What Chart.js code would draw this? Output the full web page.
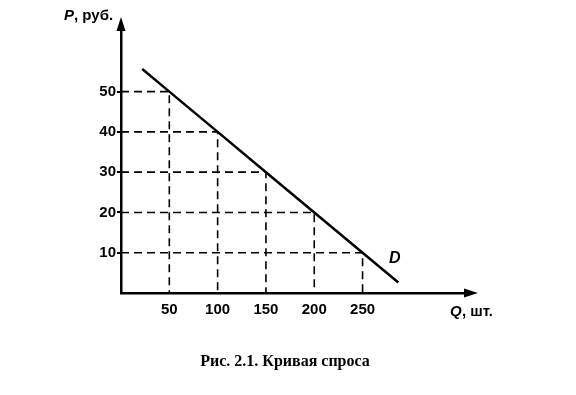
<!DOCTYPE html>
<html lang="ru">
<head>
    <meta charset="UTF-8">
    <title>Кривая спроса</title>
    <script src="https://cdn.jsdelivr.net/npm/chart.js"></script>
    <style>
        html, body { margin: 0; padding: 0; background: #fff; }
        canvas { display: block; }
    </style>
</head>
<body>
    <canvas id="myChart" width="576" height="395"></canvas>
    <script>
        // tick labels on the axes
        const qTicks = [50, 100, 150, 200, 250];
        const pTicks = [10, 20, 30, 40, 50];
        // demand curve D
        const demandQ = [22, 50, 100, 150, 200, 250, 287];
        const demandP = [55.6, 50, 40, 30, 20, 10, 2.6];
        // dashed guide points (Q, P) on the curve
        const guideQ = [50, 100, 150, 200, 250];
        const guideP = [50, 40, 30, 20, 10];

        const axisFont = { family: 'Liberation Sans, Arial, sans-serif', size: 15, weight: 'bold' };

        const datasets = [{
            data: demandQ.map((q, i) => ({ x: q, y: demandP[i] })),
            borderColor: '#000',
            borderWidth: 2.5,
            pointRadius: 0,
            clip: false
        }];
        guideQ.forEach((q, i) => {
            datasets.push({
                data: [{ x: 0, y: guideP[i] }, { x: q, y: guideP[i] }, { x: q, y: 0 }],
                borderColor: '#000',
                borderWidth: 1.6,
                borderDash: [8, 5],
                pointRadius: 0,
                clip: false
            });
        });

        const extras = {
            id: 'extras',
            afterDraw(chart) {
                const ctx = chart.ctx;
                const a = chart.chartArea;
                ctx.save();
                ctx.fillStyle = '#000';
                // arrow on P axis
                ctx.beginPath();
                ctx.moveTo(a.left, a.top - 13);
                ctx.lineTo(a.left - 4.5, a.top + 1);
                ctx.lineTo(a.left + 4.5, a.top + 1);
                ctx.closePath();
                ctx.fill();
                // arrow on Q axis
                ctx.beginPath();
                ctx.moveTo(a.right + 13, a.bottom);
                ctx.lineTo(a.right - 1, a.bottom - 4.5);
                ctx.lineTo(a.right - 1, a.bottom + 4.5);
                ctx.closePath();
                ctx.fill();

                ctx.textBaseline = 'middle';
                ctx.textAlign = 'left';
                ctx.font = 'italic bold 15px "Liberation Sans", Arial, sans-serif';
                ctx.fillText('P', 64, 16);
                ctx.font = 'bold 15px "Liberation Sans", Arial, sans-serif';
                ctx.fillText(', руб.', 74, 16);
                ctx.font = 'italic bold 15px "Liberation Sans", Arial, sans-serif';
                ctx.fillText('Q', 450, 312);
                ctx.font = 'bold 15px "Liberation Sans", Arial, sans-serif';
                ctx.fillText(', шт.', 462, 312);
                ctx.font = 'italic bold 16px "Liberation Sans", Arial, sans-serif';
                ctx.fillText('D', 389, 259);

                ctx.textAlign = 'center';
                ctx.font = 'bold 16px "Liberation Serif", "Times New Roman", serif';
                ctx.fillText('Рис. 2.1. Кривая спроса', 285, 362);
                ctx.restore();
            }
        };

        new Chart(document.getElementById('myChart').getContext('2d'), {
            type: 'line',
            data: { datasets: datasets },
            options: {
                responsive: false,
                animation: false,
                layout: { padding: { top: 30, right: 111, left: 0, bottom: 0 } },
                plugins: { legend: { display: false }, tooltip: { enabled: false } },
                scales: {
                    x: {
                        type: 'linear',
                        min: 0,
                        max: 356,
                        grid: { display: false },
                        border: { display: true, color: '#000', width: 2.5 },
                        ticks: { color: '#000', font: axisFont, padding: 0, maxRotation: 0 },
                        afterBuildTicks: s => { s.ticks = qTicks.map(v => ({ value: v })); },
                        afterFit: s => { s.height = 102; }
                    },
                    y: {
                        type: 'linear',
                        min: 0,
                        max: 65.3,
                        grid: { display: true, drawOnChartArea: false, drawTicks: true, tickLength: 4, color: '#000', lineWidth: 2 },
                        border: { display: true, color: '#000', width: 2.5 },
                        ticks: { color: '#000', font: axisFont, padding: 1 },
                        afterBuildTicks: s => { s.ticks = pTicks.map(v => ({ value: v })); },
                        afterFit: s => { s.width = 121; }
                    }
                }
            },
            plugins: [extras]
        });
    </script>
</body>
</html>
